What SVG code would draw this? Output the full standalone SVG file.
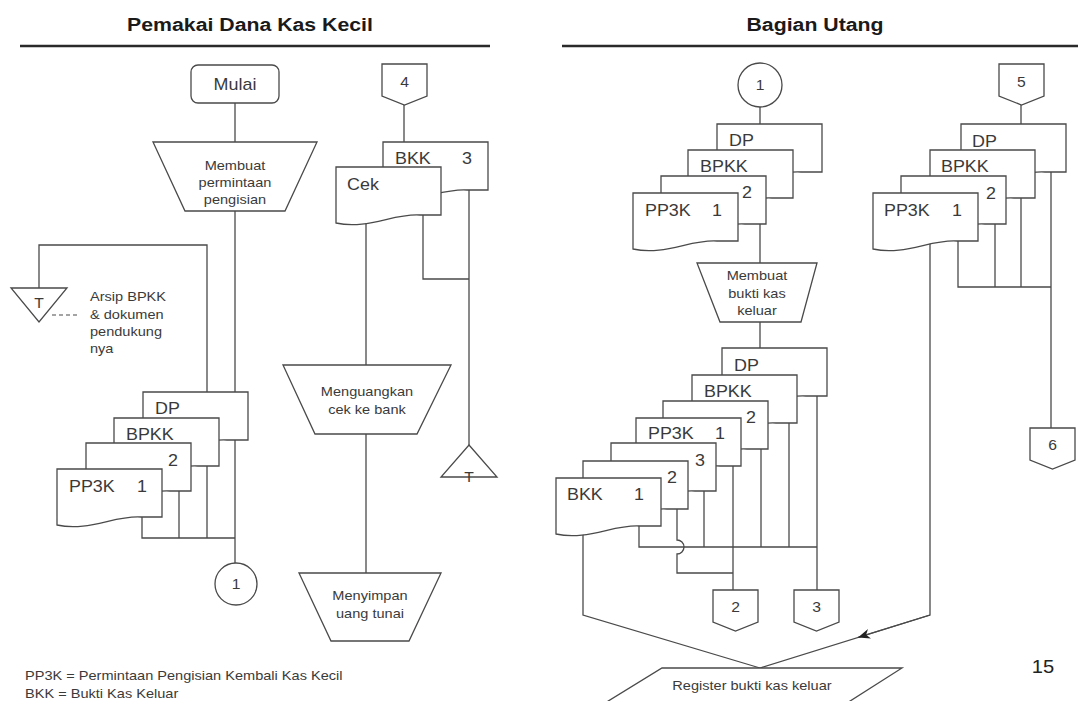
<svg xmlns="http://www.w3.org/2000/svg" xmlns:xlink="http://www.w3.org/1999/xlink" width="1078" height="701" viewBox="0 0 1078 701">
  <style>
    .ln { fill: none; stroke: #4a4a4a; stroke-width: 1.3; }
    .shp { fill: #fff; stroke: #4a4a4a; stroke-width: 1.3; }
    .rule { stroke: #2a2a2a; stroke-width: 2.4; }
    .dash { stroke: #4a4a4a; stroke-width: 1.2; stroke-dasharray: 4 3; }
    text { font-family: "Liberation Sans", Arial, sans-serif; fill: #3a3a3a; }
    .c { text-anchor: middle; transform: scaleX(1.12); transform-box: fill-box; transform-origin: center; }
    .l { text-anchor: start; transform: scaleX(1.12); transform-box: fill-box; transform-origin: left center; }
    .title { font-size: 19px; font-weight: bold; fill: #1a1a1a; }
    .doc { font-size: 16px; }
    .proc { font-size: 13px; }
    .note { font-size: 13px; }
    .num { font-size: 14px; }
    .page { font-size: 18px; fill: #222; }
  </style>
  <defs>
    <!-- document symbol: 105 wide, wavy bottom -->
    <path id="doc" class="shp" d="M0,0H105V48L84,48C58,46 31.5,63 0,56Z"/>
    <!-- off-page connector pointing down -->
    <path id="offpage" class="shp" d="M0,0H45V32L22.5,41L0,32Z"/>
    <marker id="arrow" viewBox="0 0 12 10" refX="12" refY="5" markerWidth="12" markerHeight="10" markerUnits="userSpaceOnUse" orient="auto">
      <path d="M0,0L12,5L0,10L3.5,5Z" fill="#222"/>
    </marker>
  </defs>

  <!-- lane headers -->
  <g id="header-pemakai">
    <text class="title c" x="250" y="31">Pemakai Dana Kas Kecil</text>
    <line class="rule" x1="20" y1="46" x2="490" y2="46"/>
  </g>
  <g id="header-utang">
    <text class="title c" x="815" y="31">Bagian Utang</text>
    <line class="rule" x1="562" y1="46" x2="1078" y2="46"/>
  </g>

  <!-- flow lines -->
  <g id="connectors">
    <!-- Pemakai: start to request -->
    <path class="ln" d="M235,103V142"/>
    <path class="ln" d="M235,211V392"/>
    <path class="ln" d="M207,392V245H39V288"/>
    <line class="dash" x1="52" y1="315" x2="80" y2="315"/>
    <!-- Pemakai: copies to connector 1 -->
    <path class="ln" d="M142,515V538H235"/>
    <path class="ln" d="M179,490V538"/>
    <path class="ln" d="M207,465V538"/>
    <path class="ln" d="M235,439V563"/>
    <!-- Pemakai: cheque flow -->
    <path class="ln" d="M404,105V142"/>
    <path class="ln" d="M366,215V365"/>
    <path class="ln" d="M366,434V573"/>
    <path class="ln" d="M423,214V279H469"/>
    <path class="ln" d="M469,189V445"/>
    <!-- Utang: first set -->
    <path class="ln" d="M760,107V124"/>
    <path class="ln" d="M760,222V263"/>
    <path class="ln" d="M760,322V348"/>
    <!-- Utang: second set -->
    <path class="ln" d="M817,395V590"/>
    <path class="ln" d="M789,422V547"/>
    <path class="ln" d="M761,448V547"/>
    <path class="ln" d="M733,465V590"/>
    <path class="ln" d="M704,490V547"/>
    <path class="ln" d="M639,525V547H817"/>
    <path class="ln" d="M677,508V540A7,7 0 0 1 677,554V573H733"/>
    <path class="ln" d="M583,530V615L760,668"/>
    <!-- Utang: third set -->
    <path class="ln" d="M1021,105V124"/>
    <path class="ln" d="M1051,171V428"/>
    <path class="ln" d="M1021,198V287"/>
    <path class="ln" d="M995,224V287"/>
    <path class="ln" d="M958,240V287H1051"/>
    <path class="ln" d="M930,240V615L760,668"/>
    <path class="ln" d="M930,615L858,637.4" marker-end="url(#arrow)"/>
  </g>

  <!-- Pemakai Dana Kas Kecil -->
  <g id="mulai">
    <rect class="shp" x="191" y="65" width="88" height="38" rx="7"/>
    <text class="doc c" x="235" y="90">Mulai</text>
  </g>
  <g id="membuat-permintaan">
    <polygon class="shp" points="153,142 317,142 285,211 185,211"/>
    <text class="proc c" x="235" y="170">Membuat</text>
    <text class="proc c" x="235" y="187">permintaan</text>
    <text class="proc c" x="235" y="204.5">pengisian</text>
  </g>
  <g id="arsip-t">
    <polygon class="shp" points="11,288 67,288 39,322"/>
    <text class="num c" x="39" y="308">T</text>
    <text class="note l" x="90" y="301.5">Arsip BPKK</text>
    <text class="note l" x="90" y="319.5">&amp; dokumen</text>
    <text class="note l" x="90" y="336.5">pendukung</text>
    <text class="note l" x="90" y="353.5">nya</text>
  </g>
  <g id="p-dp">
    <use xlink:href="#doc" transform="translate(143,392)"/>
    <text class="doc l" x="155" y="414">DP</text>
  </g>
  <g id="p-bpkk">
    <use xlink:href="#doc" transform="translate(114,418)"/>
    <text class="doc l" x="126" y="440">BPKK</text>
  </g>
  <g id="p-pp3k-2">
    <use xlink:href="#doc" transform="translate(86,443)"/>
    <text class="doc c" x="173" y="466">2</text>
  </g>
  <g id="p-pp3k-1">
    <use xlink:href="#doc" transform="translate(57,469)"/>
    <text class="doc l" x="69" y="492">PP3K</text>
    <text class="doc c" x="142" y="492">1</text>
  </g>
  <g id="conn-1-out">
    <circle class="shp" cx="236" cy="584" r="21"/>
    <text class="num c" x="236" y="589">1</text>
  </g>
  <g id="conn-4">
    <use xlink:href="#offpage" transform="translate(382,64)"/>
    <text class="num c" x="404.5" y="87">4</text>
  </g>
  <g id="p-bkk-3">
    <use xlink:href="#doc" transform="translate(383,142)"/>
    <text class="doc l" x="395" y="164">BKK</text>
    <text class="doc c" x="467" y="164">3</text>
  </g>
  <g id="p-cek">
    <use xlink:href="#doc" transform="translate(336,167)"/>
    <text class="doc l" x="347" y="190">Cek</text>
  </g>
  <g id="menguangkan">
    <polygon class="shp" points="283,365 451,365 417,434 315,434"/>
    <text class="proc c" x="367" y="396">Menguangkan</text>
    <text class="proc c" x="367" y="414">cek ke bank</text>
  </g>
  <g id="arsip-t-bkk">
    <polygon class="shp" points="469,445 497,477 441,477"/>
    <text class="num c" x="469" y="482">T</text>
  </g>
  <g id="menyimpan">
    <polygon class="shp" points="299,573 441,573 409,641 331,641"/>
    <text class="proc c" x="370" y="600">Menyimpan</text>
    <text class="proc c" x="370" y="618">uang tunai</text>
  </g>
  <g id="legend">
    <text class="note l" x="25" y="680">PP3K = Permintaan Pengisian Kembali Kas Kecil</text>
    <text class="note l" x="25" y="698">BKK = Bukti Kas Keluar</text>
  </g>

  <!-- Bagian Utang -->
  <g id="conn-1-in">
    <circle class="shp" cx="760" cy="85" r="22"/>
    <text class="num c" x="760" y="90">1</text>
  </g>
  <g id="u1-dp">
    <use xlink:href="#doc" transform="translate(717,124)"/>
    <text class="doc l" x="729" y="146">DP</text>
  </g>
  <g id="u1-bpkk">
    <use xlink:href="#doc" transform="translate(688,150)"/>
    <text class="doc l" x="700" y="172">BPKK</text>
  </g>
  <g id="u1-pp3k-2">
    <use xlink:href="#doc" transform="translate(661,176)"/>
    <text class="doc c" x="747" y="198">2</text>
  </g>
  <g id="u1-pp3k-1">
    <use xlink:href="#doc" transform="translate(633,193)"/>
    <text class="doc l" x="645" y="216">PP3K</text>
    <text class="doc c" x="717" y="216">1</text>
  </g>
  <g id="membuat-bkk">
    <polygon class="shp" points="697,263 817,263 801,322 720,322"/>
    <text class="proc c" x="757" y="280">Membuat</text>
    <text class="proc c" x="757" y="298">bukti kas</text>
    <text class="proc c" x="757" y="315">keluar</text>
  </g>
  <g id="u2-dp">
    <use xlink:href="#doc" transform="translate(722,348)"/>
    <text class="doc l" x="734" y="371">DP</text>
  </g>
  <g id="u2-bpkk">
    <use xlink:href="#doc" transform="translate(692,375)"/>
    <text class="doc l" x="704" y="397">BPKK</text>
  </g>
  <g id="u2-pp3k-2">
    <use xlink:href="#doc" transform="translate(663,401)"/>
    <text class="doc c" x="751" y="423">2</text>
  </g>
  <g id="u2-pp3k-1">
    <use xlink:href="#doc" transform="translate(636,418)"/>
    <text class="doc l" x="648" y="439">PP3K</text>
    <text class="doc c" x="720" y="439">1</text>
  </g>
  <g id="u2-bkk-3">
    <use xlink:href="#doc" transform="translate(611,443)"/>
    <text class="doc c" x="700" y="466">3</text>
  </g>
  <g id="u2-bkk-2">
    <use xlink:href="#doc" transform="translate(583,461)"/>
    <text class="doc c" x="672" y="483">2</text>
  </g>
  <g id="u2-bkk-1">
    <use xlink:href="#doc" transform="translate(556,478)"/>
    <text class="doc l" x="567" y="500">BKK</text>
    <text class="doc c" x="639" y="500">1</text>
  </g>
  <g id="conn-2">
    <use xlink:href="#offpage" transform="translate(713,590)"/>
    <text class="num c" x="735.5" y="612">2</text>
  </g>
  <g id="conn-3">
    <use xlink:href="#offpage" transform="translate(794,590)"/>
    <text class="num c" x="816.5" y="612">3</text>
  </g>
  <g id="conn-5">
    <use xlink:href="#offpage" transform="translate(999,64)"/>
    <text class="num c" x="1021.5" y="87">5</text>
  </g>
  <g id="u3-dp">
    <use xlink:href="#doc" transform="translate(961,124)"/>
    <text class="doc l" x="972" y="147">DP</text>
  </g>
  <g id="u3-bpkk">
    <use xlink:href="#doc" transform="translate(930,150)"/>
    <text class="doc l" x="941" y="172">BPKK</text>
  </g>
  <g id="u3-pp3k-2">
    <use xlink:href="#doc" transform="translate(901,176)"/>
    <text class="doc c" x="991" y="199">2</text>
  </g>
  <g id="u3-pp3k-1">
    <use xlink:href="#doc" transform="translate(873,193)"/>
    <text class="doc l" x="884" y="216">PP3K</text>
    <text class="doc c" x="957" y="216">1</text>
  </g>
  <g id="conn-6">
    <use xlink:href="#offpage" transform="translate(1030,428)"/>
    <text class="num c" x="1052.5" y="450">6</text>
  </g>
  <g id="register-bkk">
    <polygon class="shp" points="662,668 902,668 847,703 605,703"/>
    <text class="proc c" x="752" y="690">Register bukti kas keluar</text>
  </g>
  <g id="page-number">
    <text class="page c" x="1043" y="673">15</text>
  </g>
</svg>
